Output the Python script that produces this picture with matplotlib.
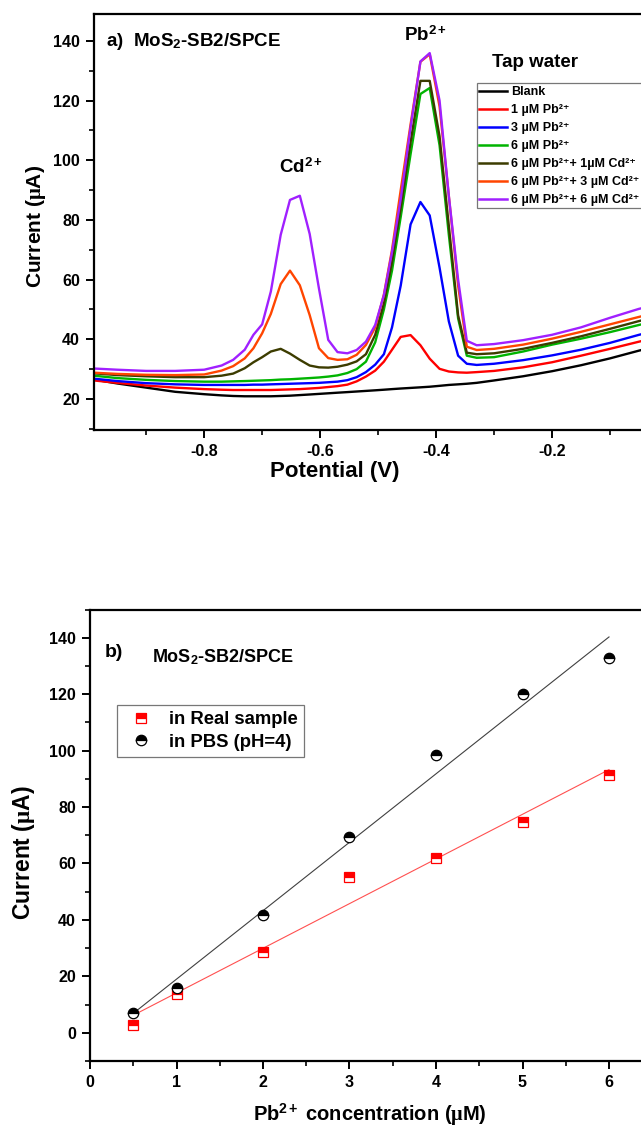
import matplotlib
matplotlib.use('Agg')
import matplotlib.pyplot as plt
import numpy as np
from matplotlib.ticker import MultipleLocator, FixedLocator

plt.rcParams['font.family'] = ['Liberation Sans', 'DejaVu Sans']
plt.rcParams['font.weight'] = 'bold'
plt.rcParams['mathtext.fontset'] = 'custom'
plt.rcParams['mathtext.rm'] = 'Liberation Serif'
plt.rcParams['mathtext.bf'] = 'Liberation Sans:bold'
plt.rcParams['mathtext.it'] = 'Liberation Serif:italic'
plt.rcParams['mathtext.sf'] = 'Liberation Sans'

# ---------------- Panel a data ----------------
potential = [-0.99, -0.95, -0.90, -0.85, -0.80, -0.77, -0.75, -0.73, -0.715, -0.70,
             -0.685, -0.668, -0.652, -0.635, -0.618, -0.602, -0.586, -0.570, -0.553, -0.537,
             -0.521, -0.505, -0.490, -0.476, -0.461, -0.444, -0.427, -0.411, -0.394, -0.378,
             -0.362, -0.347, -0.33, -0.30, -0.25, -0.20, -0.15, -0.10, -0.05, 0.0]

blank = [26.5, 25.2, 23.8, 22.4, 21.6, 21.2, 21.0, 20.9, 20.9, 20.9,
         20.9, 21.0, 21.1, 21.3, 21.5, 21.7, 21.9, 22.1, 22.3, 22.5,
         22.7, 22.9, 23.1, 23.3, 23.5, 23.7, 23.9, 24.1, 24.4, 24.7,
         24.9, 25.1, 25.4, 26.2, 27.6, 29.3, 31.3, 33.6, 36.2, 38.5]

pb1 = [26.2, 25.4, 24.5, 23.8, 23.3, 23.1, 23.0, 23.0, 23.0, 23.0,
       23.0, 23.1, 23.2, 23.3, 23.5, 23.7, 24.0, 24.3, 24.8, 25.9,
       27.5, 29.5, 32.5, 36.5, 40.8, 41.4, 38.0, 33.5, 30.1, 29.2,
       28.9, 28.8, 29.0, 29.4, 30.6, 32.3, 34.5, 36.8, 39.2, 41.5]

pb3 = [26.8, 26.0, 25.3, 24.9, 24.7, 24.7, 24.7, 24.7, 24.8, 24.8,
       24.9, 25.0, 25.1, 25.2, 25.3, 25.4, 25.6, 25.8, 26.3, 27.3,
       29.0, 31.5, 35.0, 44.0, 58.0, 78.5, 86.0, 81.5, 64.0, 46.0,
       34.5, 31.8, 31.4, 31.8, 33.0, 34.6, 36.5, 38.8, 41.5, 43.8]

pb6 = [27.8, 27.0, 26.4, 26.0, 25.8, 25.8, 25.9, 26.0, 26.1, 26.2,
       26.3, 26.5, 26.6, 26.8, 27.0, 27.2, 27.5, 27.9, 28.7, 30.0,
       32.5, 39.0, 50.0, 63.0, 81.0, 102.0, 122.2, 124.2, 105.0, 75.0,
       47.0, 34.5, 33.8, 34.0, 35.9, 38.2, 40.2, 42.4, 44.8, 47.2]

pb6_cd1 = [28.6, 28.0, 27.6, 27.3, 27.3, 27.8, 28.5, 30.3, 32.3, 34.0,
           35.9, 36.8, 35.2, 33.1, 31.2, 30.6, 30.5, 30.8, 31.5, 32.6,
           35.0, 41.5, 52.0, 66.0, 84.0, 106.0, 126.6, 126.6, 108.0, 78.0,
           48.0, 35.5, 35.0, 35.3, 36.8, 38.8, 41.0, 43.5, 46.1, 48.5]

pb6_cd3 = [28.8, 28.4, 28.1, 28.0, 28.2, 29.5, 31.0, 33.6, 37.0, 42.0,
           48.5, 58.5, 63.0, 58.1, 48.1, 37.0, 33.7, 33.1, 33.3, 34.8,
           38.1, 44.0, 55.0, 70.0, 90.0, 112.0, 133.0, 135.5, 118.0, 88.0,
           58.0, 37.5, 36.4, 36.8, 38.2, 40.2, 42.5, 45.0, 47.5, 49.8]

pb6_cd6 = [30.2, 29.8, 29.4, 29.4, 29.8, 31.2, 33.1, 36.5, 41.5, 45.0,
           56.0, 75.0, 86.7, 88.1, 75.3, 57.0, 39.8, 35.7, 35.3, 36.4,
           39.2, 44.8, 54.8, 69.2, 87.0, 111.0, 133.1, 135.9, 120.0, 88.0,
           60.0, 39.5, 38.0, 38.4, 39.7, 41.5, 44.0, 47.2, 50.2, 52.5]

series_a = [blank, pb1, pb3, pb6, pb6_cd1, pb6_cd3, pb6_cd6]
labels_a = ['Blank',
            '1 µM Pb²⁺',
            '3 µM Pb²⁺',
            '6 µM Pb²⁺',
            '6 µM Pb²⁺+ 1µM Cd²⁺',
            '6 µM Pb²⁺+ 3 µM Cd²⁺',
            '6 µM Pb²⁺+ 6 µM Cd²⁺']
colors_a = ['#000000', '#FF0000', '#0000FF', '#00B400', '#3C3C00', '#FF4500', '#A020FF']

# ---------------- Panel b data ----------------
conc = [0.5, 1, 2, 3, 4, 5, 6]
real_sample = [2.8, 13.7, 28.5, 55.3, 62.0, 74.6, 91.4]
pbs = [6.9, 15.7, 41.7, 69.3, 98.4, 120.0, 132.7]

W, H = 641, 1133
fig = plt.figure(figsize=(W / 100, H / 100), dpi=100)

def frac(left, right, top, bottom):
    return [left / W, 1 - bottom / H, (right - left) / W, (bottom - top) / H]

# ---------------- Panel a ----------------
ax1 = fig.add_axes(frac(94, 668, 14, 430))
for y, lab, c in zip(series_a, labels_a, colors_a):
    ax1.plot(potential, y, color=c, lw=1.7, label=lab)
ax1.set_xlim(-0.99, 0.0)
ax1.set_ylim(9.6, 149.0)
ax1.xaxis.set_major_locator(FixedLocator([-0.8, -0.6, -0.4, -0.2, 0.0]))
ax1.xaxis.set_minor_locator(MultipleLocator(0.1))
ax1.yaxis.set_major_locator(MultipleLocator(20))
ax1.yaxis.set_minor_locator(MultipleLocator(10))
ax1.set_xticklabels(['-0.8', '-0.6', '-0.4', '-0.2', ''])

ax1.set_ylabel(r'Current ($\mathrm{\mu}$A)', fontsize=15, fontweight='bold')
ax1.set_xlabel('Potential (V)', fontsize=16, fontweight='bold')
ax1.yaxis.set_label_coords(-0.08, 0.49)
ax1.xaxis.set_label_coords(0.42, -0.074)

ax1.text(0.021, 0.933, r'a)  MoS$_{\mathbf{2}}$-SB2/SPCE', transform=ax1.transAxes,
         fontsize=13.5, fontweight='bold', ha='left', va='center')
ax1.text(-0.418, 142, r'Pb$^{\mathbf{2+}}$', fontsize=13.5, fontweight='bold', ha='center', va='center')
ax1.text(-0.634, 97.6, r'Cd$^{\mathbf{2+}}$', fontsize=13.5, fontweight='bold', ha='center', va='center')
ax1.text(-0.229, 132.6, 'Tap water', fontsize=13.5, fontweight='bold', ha='center', va='center')

leg1 = ax1.legend(loc='upper left', bbox_to_anchor=(0.6665, 0.833),
                  frameon=True, fancybox=False, borderpad=0.2, borderaxespad=0,
                  handlelength=2.25, handletextpad=0.3, labelspacing=0.48,
                  prop={'weight': 'bold', 'size': 9,
                        'family': ['Liberation Sans', 'DejaVu Sans']})
leg1.get_frame().set_edgecolor('#555555')
leg1.get_frame().set_linewidth(0.9)
for line in leg1.get_lines():
    line.set_linewidth(1.8)

# ---------------- Panel b ----------------
ax2 = fig.add_axes(frac(90, 695.5, 609.5, 1061))
slope_p, icpt_p = np.polyfit(conc, pbs, 1)
slope_r, icpt_r = np.polyfit(conc, real_sample, 1)
xf = np.array([conc[0], conc[-1]])
ax2.plot(xf, slope_p * xf + icpt_p, color='#404040', lw=0.8)
ax2.plot(xf, slope_r * xf + icpt_r, color='#FF5050', lw=0.8)
ax2.plot(conc, real_sample, linestyle='none', marker='s', markersize=6.5,
         fillstyle='top', color='#FF0000', markerfacecoloralt='white',
         markeredgecolor='#FF0000', markeredgewidth=0.9, label='in Real sample')
ax2.plot(conc, pbs, linestyle='none', marker='o', markersize=7.5,
         fillstyle='top', color='black', markerfacecoloralt='white',
         markeredgecolor='black', markeredgewidth=0.9, label='in PBS (pH=4)')
ax2.set_xlim(0, 7)
ax2.set_ylim(-10, 150)
ax2.xaxis.set_major_locator(FixedLocator([0, 1, 2, 3, 4, 5, 6]))
ax2.xaxis.set_minor_locator(MultipleLocator(0.5))
ax2.yaxis.set_major_locator(MultipleLocator(20))
ax2.yaxis.set_minor_locator(MultipleLocator(10))
ax2.set_ylabel(r'Current ($\mathrm{\mu}$A)', fontsize=16.5, fontweight='bold')
ax2.set_xlabel(r'Pb$^{\mathbf{2+}}$ concentration ($\mathrm{\mu}$M)', fontsize=14.5, fontweight='bold')
ax2.yaxis.set_label_coords(-0.0875, 0.461)
ax2.xaxis.set_label_coords(0.462, -0.09)

ax2.text(0.0248, 0.904, 'b)', transform=ax2.transAxes, fontsize=14, fontweight='bold',
         ha='left', va='center')
ax2.text(0.102, 0.895, r'MoS$_{\mathbf{2}}$-SB2/SPCE', transform=ax2.transAxes,
         fontsize=13, fontweight='bold', ha='left', va='center')

leg2 = ax2.legend(loc='upper left', bbox_to_anchor=(0.0446, 0.789),
                  frameon=True, fancybox=False, borderpad=0.35, borderaxespad=0,
                  handlelength=1.87, handletextpad=0.6, labelspacing=0.3,
                  prop={'weight': 'bold', 'size': 13.3})
leg2.get_frame().set_edgecolor('#555555')
leg2.get_frame().set_linewidth(0.9)

for ax in (ax1, ax2):
    for s in ax.spines.values():
        s.set_linewidth(1.6)
    ax.tick_params(which='major', direction='out', length=6, width=1.4,
                   labelsize=11.5, pad=4)
    ax.tick_params(which='minor', direction='out', length=3.5, width=1.2)
    ax.tick_params(top=False, right=False, which='both')
    for t in ax.get_xticklabels() + ax.get_yticklabels():
        t.set_fontweight('bold')

fig.savefig('out.png', dpi=100)
